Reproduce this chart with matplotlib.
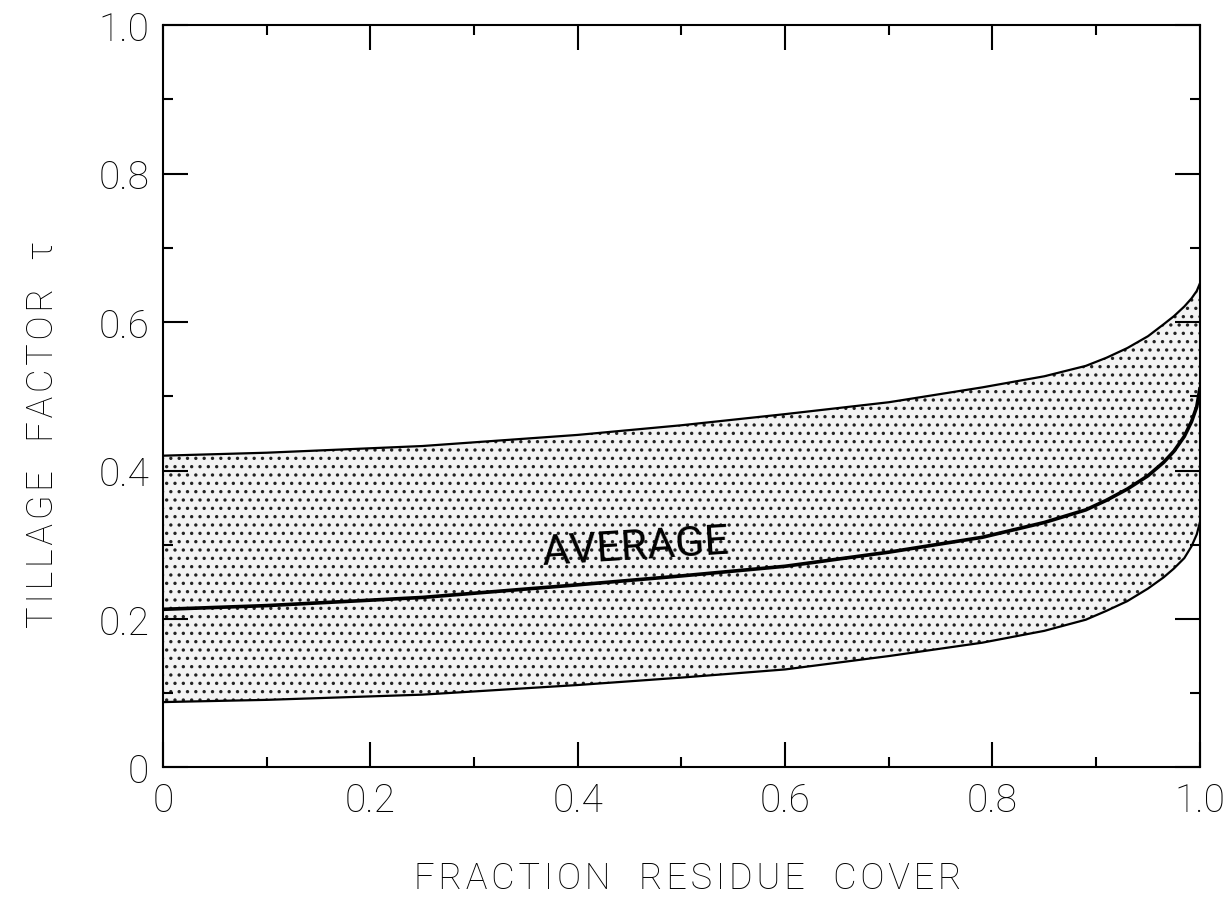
import numpy as np
import matplotlib.pyplot as plt
from matplotlib.ticker import MultipleLocator

# values
cover = [0.0, 0.1, 0.25, 0.4, 0.5, 0.6, 0.7, 0.79, 0.85, 0.89, 0.91, 0.93,
         0.95, 0.965, 0.975, 0.985, 0.992, 0.997, 1.0]
upper = [0.420, 0.424, 0.433, 0.448, 0.461, 0.476, 0.492, 0.512, 0.527,
         0.541, 0.552, 0.565, 0.581, 0.597, 0.608, 0.621, 0.632, 0.642, 0.652]
average = [0.213, 0.218, 0.229, 0.246, 0.258, 0.271, 0.290, 0.310, 0.330,
           0.347, 0.360, 0.375, 0.393, 0.411, 0.426, 0.446, 0.466, 0.486,
           0.510]
lower = [0.088, 0.091, 0.098, 0.111, 0.121, 0.132, 0.150, 0.168, 0.184,
         0.199, 0.211, 0.224, 0.241, 0.256, 0.268, 0.282, 0.298, 0.314, 0.330]

xticks = [0, 0.2, 0.4, 0.6, 0.8, 1.0]
xticklabels = ['0', '0.2', '0.4', '0.6', '0.8', '1.0']
yticks = [0, 0.2, 0.4, 0.6, 0.8, 1.0]
yticklabels = ['0', '0.2', '0.4', '0.6', '0.8', '1.0']


def spaced(s):
    # slightly wider letter spacing like the original lettering
    return '\u200a'.join(s)


plt.rcParams['font.family'] = ['Roboto', 'DejaVu Sans']
plt.rcParams['font.weight'] = 'light'
plt.rcParams['hatch.linewidth'] = 1.2
plt.rcParams['hatch.color'] = '#222222'

fig = plt.figure(figsize=(12.3, 9.04), dpi=100)
ax = fig.add_axes([0.1325, 0.150, 0.843, 0.821])

ax.fill_between(cover, lower, upper, facecolor='#f3f3f3', hatch='..',
                edgecolor='#222222', linewidth=0)
ax.plot(cover, upper, color='black', lw=1.6)
ax.plot(cover, lower, color='black', lw=1.6)
ax.plot(cover, average, color='black', lw=2.6)

ax.text(0.456, 0.297, 'AVERAGE', fontsize=31, rotation=3.5,
        ha='center', va='center', fontweight='normal', color='black')

ax.set_xlim(0, 1.0)
ax.set_ylim(0, 1.0)
ax.set_xticks(xticks)
ax.set_xticklabels(xticklabels)
ax.set_yticks(yticks)
ax.set_yticklabels(yticklabels)
ax.xaxis.set_minor_locator(MultipleLocator(0.1))
ax.yaxis.set_minor_locator(MultipleLocator(0.1))
ax.tick_params(which='both', direction='in', top=True, right=True,
               labelsize=28, width=1.5, pad=10)
ax.tick_params(which='major', length=18)
ax.tick_params(which='minor', length=7)
for s in ax.spines.values():
    s.set_linewidth(1.5)

ax.set_xlabel(spaced('FRACTION  RESIDUE  COVER'), fontsize=26,
              fontweight='light')
ax.set_ylabel(spaced('TILLAGE  FACTOR  τ'), fontsize=26,
              fontweight='light')
ax.xaxis.set_label_coords(0.506, -0.125)
ax.yaxis.set_label_coords(-0.098, 0.45)

fig.savefig('out.png', dpi=100)
